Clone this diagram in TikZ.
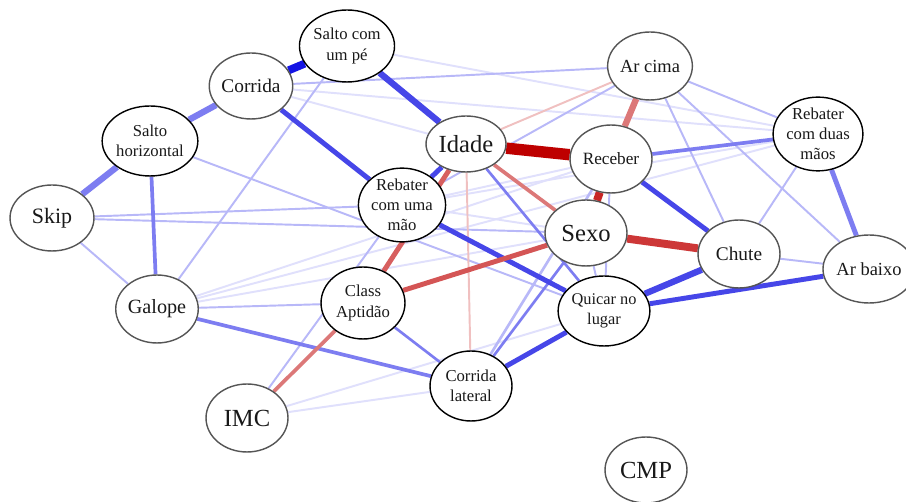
\documentclass[tikz,border=0pt]{standalone}
\usepackage{fontspec}
\setmainfont{Liberation Serif}
\usetikzlibrary{shapes.geometric}

\pgfdeclarelayer{edgelayer}
\pgfsetlayers{edgelayer,main}

% positive (blue) and negative (red) weights, strongest first
\definecolor{bA}{RGB}{20,20,228}
\definecolor{bB}{RGB}{70,70,232}
\definecolor{bC}{RGB}{125,125,241}
\definecolor{bD}{RGB}{184,184,248}
\definecolor{bE}{RGB}{224,224,252}
\definecolor{rA}{RGB}{190,0,0}
\definecolor{rB}{RGB}{205,55,55}
\definecolor{rC}{RGB}{220,120,120}
\definecolor{rD}{RGB}{240,192,192}
\definecolor{rimgray}{RGB}{85,85,85}

\tikzset{
  var/.style={ellipse, fill=white, line width=0.8pt, inner sep=0pt, align=center, text=black!90},
  sz/.style 2 args={minimum width=#1*0.04cm, minimum height=#2*0.04cm},
  bigvar/.style={var, draw=rimgray, font=\fontsize{14}{16}\selectfont},
  midvar/.style={var, draw=rimgray, font=\fontsize{11}{13}\selectfont},
  smallvar/.style={var, draw=black, font=\fontsize{9.5}{11.5}\selectfont},
  wA/.style={line width=6.5pt},
  wB/.style={line width=4.5pt},
  wC/.style={line width=3.6pt},
  wD/.style={line width=2.8pt},
  wE/.style={line width=2.1pt},
  wF/.style={line width=1.5pt},
  wG/.style={line width=1.1pt},
}

\begin{document}
\begin{tikzpicture}[x=0.02cm, y=-0.02cm]
  \useasboundingbox (0,0) rectangle (906,502);

  % variables
  \node[smallvar, sz={43}{36}] (sp)  at (347,46)  {Salto com\\um pé};
  \node[midvar,   sz={41}{33}] (cor) at (251,86)  {Corrida};
  \node[smallvar, sz={41}{35}] (sh)  at (150,141) {Salto\\horizontal};
  \node[midvar,   sz={42}{33}, font=\fontsize{12.5}{14}\selectfont] (skip) at (52,218) {Skip};
  \node[bigvar,   sz={40}{28}] (ida) at (466,144) {Idade};
  \node[midvar,   sz={41}{34}, font=\fontsize{10.5}{12}\selectfont] (arc) at (650,66) {Ar cima};
  \node[midvar,   sz={41}{34}, font=\fontsize{9.8}{12}\selectfont] (rec) at (611,159) {Receber};
  \node[smallvar, sz={43}{36}] (rtwo) at (818,134) {Rebater\\com duas\\mãos};
  \node[smallvar, sz={42}{35}] (rone) at (402,205) {Rebater\\com uma\\mão};
  \node[bigvar,   sz={41}{33}] (sex) at (586,233) {Sexo};
  \node[midvar,   sz={41}{34}] (chu) at (739,254) {Chute};
  \node[midvar,   sz={38}{34}, font=\fontsize{10.5}{12}\selectfont] (arb) at (869,269) {Ar baixo};
  \node[midvar,   sz={41}{34}, font=\fontsize{11.5}{13}\selectfont] (gal) at (157,309) {Galope};
  \node[smallvar, sz={42}{36}] (cla) at (363,303) {Class\\Aptidão};
  \node[smallvar, sz={41}{35}, font=\fontsize{9.3}{11.5}\selectfont] (qui) at (604,311) {Quicar no\\lugar};
  \node[smallvar, sz={41}{35}] (clt) at (471,386) {Corrida\\lateral};
  \node[bigvar,   sz={41}{34}] (imc) at (247,418) {IMC};
  \node[bigvar,   sz={41}{33}] (cmp) at (646,470) {CMP};

  \begin{pgfonlayer}{edgelayer}
    \fill[white] (0,0) rectangle (906,502);
    % faint associations
    \draw[bE, wG] (gal) -- (rec);
    \draw[bE, wG] (gal) -- (rtwo);
    \draw[bE, wG] (imc) -- (qui);
    \draw[bE, wG] (imc) -- (clt);
    \draw[bE, wG] (sp) -- (rtwo);
    \draw[bE, wG] (cor) -- (rtwo);
    \draw[bE, wG] (cor) -- (ida);
    \draw[bE, wG] (rtwo) -- (rone);
    \draw[bE, wG] (rec) -- (rone);
    \draw[bE, wG] (sex) -- (rone);
    \draw[bE, wG] (gal) -- (sex);
    % light associations
    \draw[bD, wG] (arc) -- (chu);
    \draw[bD, wG] (arc) -- (arb);
    \draw[bD, wG] (arc) -- (rtwo);
    \draw[bD, wG] (chu) -- (arb);
    \draw[bD, wG] (rtwo) -- (chu);
    \draw[bD, wG] (skip) -- (gal);
    \draw[bD, wG] (skip) -- (rone);
    \draw[bD, wG] (skip) -- (sex);
    \draw[bD, wG] (sh) -- (qui);
    \draw[bD, wG] (gal) -- (sp);
    \draw[bD, wG] (gal) -- (cla);
    \draw[bD, wG] (imc) -- (rone);
    \draw[bD, wG] (cor) -- (arc);
    \draw[bD, wG] (arc) -- (rone);
    \draw[bD, wG] (sex) -- (qui);
    \draw[bD, wG] (rec) -- (qui);
    \draw[bD, wF] (clt) -- (rec);
    \draw[rD, wG] (ida) -- (clt);
    \draw[rD, wG] (arc) -- (ida);
    % moderate associations
    \draw[bC, wF] (ida) -- (qui);
    \draw[bC, wF] (clt) -- (sex);
    \draw[bC, wF] (cla) -- (clt);
    \draw[bC, wE] (sh) -- (gal);
    \draw[bC, wE] (gal) -- (clt);
    \draw[bC, wE] (rtwo) -- (rec);
    \draw[bC, wD] (rtwo) -- (arb);
    \draw[bB, wD] (clt) -- (qui);
    \draw[bB, wD] (arb) -- (qui);
    \draw[bB, wD] (cor) -- (rone);
    \draw[bB, wD] (rone) -- (qui);
    \draw[bB, wD] (ida) -- (rone);
    \draw[bB, wD] (rec) -- (chu);
    \draw[rC, wE] (cla) -- (imc);
    \draw[rC, wE] (ida) -- (sex);
    \draw[rC, wC] (arc) -- (rec);
    \draw[rB!80!white, wD] (ida) -- (cla);
    \draw[rB!85!white, wD] (sex) -- (cla);
    % strong associations
    \draw[bC, wC] (sh) -- (skip);
    \draw[bC, wC] (cor) -- (sh);
    \draw[bB, wC] (sp) -- (ida);
    \draw[bB, wC] (chu) -- (qui);
    \draw[bA, wB] (cor) -- (sp);
    \draw[rB, wB] (sex) -- (chu);
    \draw[rA!85!white, wB] (rec) -- (sex);
    \draw[rA, wA] (ida) -- (rec);
  \end{pgfonlayer}
\end{tikzpicture}
\end{document}
